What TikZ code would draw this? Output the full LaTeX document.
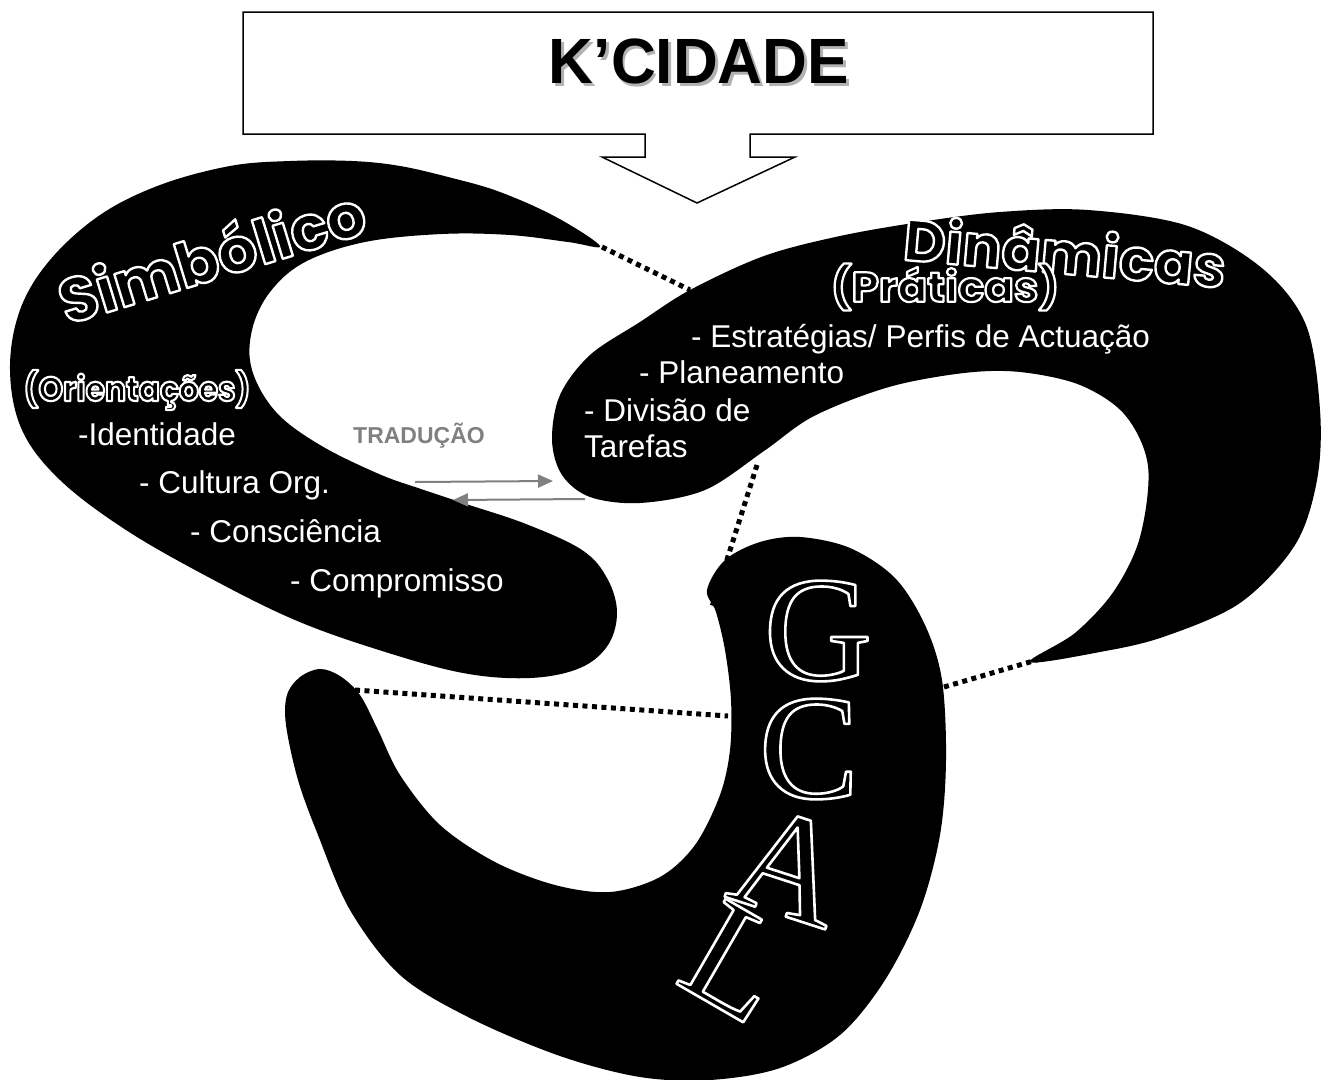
\documentclass[tikz,border=0pt]{standalone}
\usepackage{fontspec}
\setmainfont{Liberation Sans}
\newfontfamily\rnd{Poppins}
\newfontfamily\ser{Liberation Serif}
\usetikzlibrary{calc,arrows.meta}
% white stroke, black fill (outline lettering)
\newcommand{\olt}[2]{\special{pdf:literal direct 0 g 2 Tr #1 w 1 j}#2\special{pdf:literal direct 0 Tr 1 g}}
\tikzset{
  dotline/.style={line width=5pt, dash pattern=on 5pt off 4.5pt},
  wtext/.style={text=white, anchor=base west, inner sep=0pt, font=\fontsize{31.5}{36}\selectfont},
  otext/.style={text=white, inner sep=0pt},
  trarrow/.style={draw=gray, line width=2pt, -{Triangle[length=15pt,width=13pt]}},
  blob/.style={fill=black}
}
\begin{document}
\begin{tikzpicture}[x=1pt,y=-1pt]
\useasboundingbox (0,0) rectangle (1322,1079);
\fill[white] (0,0) rectangle (1322,1079);
% title callout
\draw[line width=1.5pt, fill=white, line join=miter]
  (243,12) -- (1153,12) -- (1153,134) -- (750,134) -- (750,157) -- (795,157)
  -- (697,203) -- (602,157) -- (645,157) -- (645,134) -- (243,134) -- cycle;
\node[text=black, font=\fontsize{64}{70}\selectfont\bfseries] (ktitle) at (699,63)
  {\scalebox{0.97}[1]{\rlap{\kern3pt\raisebox{-3pt}{\textcolor{gray!60}{K’CIDADE}}}K’CIDADE}};
% blob 1 : Simbolico
\fill[blob] plot[smooth cycle, tension=0.6] coordinates {
 (600,246) (556,217) (500,192) (452,178) (400,166) (352,161) (290,161) (230,166)
 (160,185) (100,215) (50,260) (20,310) (10,370) (22,430) (60,480) (126,530)
 (210,578) (295,620) (379,650) (463,673) (530,678) (580,668) (608,645) (617,612)
 (607,578) (582,550) (526,524) (463,503) (421,489) (379,474) (320,445) (276,412)
 (252,370) (252,330) (270,292) (305,262) (365,242) (442,234) (510,235) (568,242)};
% blob 2 : Dinamicas
\fill[blob] plot[smooth cycle, tension=0.55] coordinates {
 (552,440) (560,395) (590,355) (640,322) (690,290) (764,256) (840,236) (920,222)
 (1000,212) (1088,210) (1188,226) (1263,269) (1306,325) (1320,410) (1317,480)
 (1295,545) (1240,603) (1163,637) (1100,652) (1030,662) (1075,633) (1114,591)
 (1140,537) (1148,466) (1125,415) (1080,385) (1020,372) (964,373) (889,387)
 (814,416) (764,451) (705,490) (640,503) (590,497) (562,475)};
% blob 3 : GCAL
\fill[blob] plot[smooth cycle, tension=0.55] coordinates {
 (707,590) (725,560) (760,542) (800,537) (850,548) (895,578) (925,625) (942,680)
 (946,760) (940,835) (920,910) (885,980) (840,1035) (780,1068) (710,1080)
 (640,1077) (560,1056) (470,1018) (400,975) (350,910) (318,835) (298,780)
 (286,725) (287,695) (300,677) (320,669) (340,676) (360,695) (378,730) (400,775)
 (440,825) (495,862) (555,885) (610,892) (660,877) (695,845) (720,795) (730,750)
 (731,700) (725,650) (716,612)};
% dotted connectors
\coordinate (d1a) at (602,247); \coordinate (d1b) at (690,290);
\coordinate (d2a) at (757,465); \coordinate (d2b) at (712,607);
\coordinate (d3a) at (355,690); \coordinate (d3b) at (728,716);
\coordinate (d4a) at (944,687); \coordinate (d4b) at (1040,659);
\draw[dotline] (d1a) -- (d1b);
\draw[dotline] (d2a) -- (d2b);
\draw[dotline] (d3a) -- (d3b);
\draw[dotline] (d4a) -- (d4b);
% outlined headings
\node[otext, rotate=17] (simb) at (211,254) {\rnd\bfseries\fontsize{62}{66}\selectfont\olt{2.4}{Simbólico}};
\node[otext, rotate=-5] (dina) at (1065,251) {\rnd\bfseries\fontsize{58}{62}\selectfont\olt{2.4}{Dinâmicas}};
\node[otext] (prat) at (945,287) {\rnd\bfseries\fontsize{42}{46}\selectfont\scalebox{1.04}[1]{\olt{2.2}{(Práticas)}}};
\node[otext] (orie) at (137,390) {\rnd\bfseries\fontsize{34}{40}\selectfont\scalebox{0.92}[1]{\olt{2.2}{(Orientações)}}};
% white lists
\node[wtext] (e1) at (691,347) {- Estratégias/ Perfis de Actuação};
\node[wtext] (e2) at (639,383) {- Planeamento};
\node[wtext] (e3) at (584,421) {- Divisão de};
\node[wtext] (e4) at (584,457) {Tarefas};
\node[wtext] (s1) at (78,445) {-Identidade};
\node[wtext] (s2) at (139,493) {- Cultura Org.};
\node[wtext] (s3) at (190,542) {- Consciência};
\node[wtext] (s4) at (290,591) {- Compromisso};
% traducao
\node[text=gray, anchor=base west, inner sep=0pt, font=\fontsize{23}{26}\selectfont\bfseries] (trad) at (353,443) {TRADUÇÃO};
\coordinate (t1a) at (415,482); \coordinate (t1b) at (553,481);
\coordinate (t2a) at (585,499); \coordinate (t2b) at (453,500);
\draw[trarrow] (t1a) -- (t1b);
\draw[trarrow] (t2a) -- (t2b);
% GCAL letters
\node[otext] (lg) at (818,631) {\ser\fontsize{150}{150}\selectfont\olt{2.6}{G}};
\node[otext] (lc) at (809,749) {\ser\fontsize{150}{150}\selectfont\olt{2.6}{C}};
\node[otext, rotate=-18] (la) at (790,866) {\ser\fontsize{150}{150}\selectfont\olt{2.6}{A}};
\node[otext, rotate=-30] (ll) at (737,962) {\ser\fontsize{150}{150}\selectfont\olt{2.6}{L}};
\end{tikzpicture}
\end{document}
